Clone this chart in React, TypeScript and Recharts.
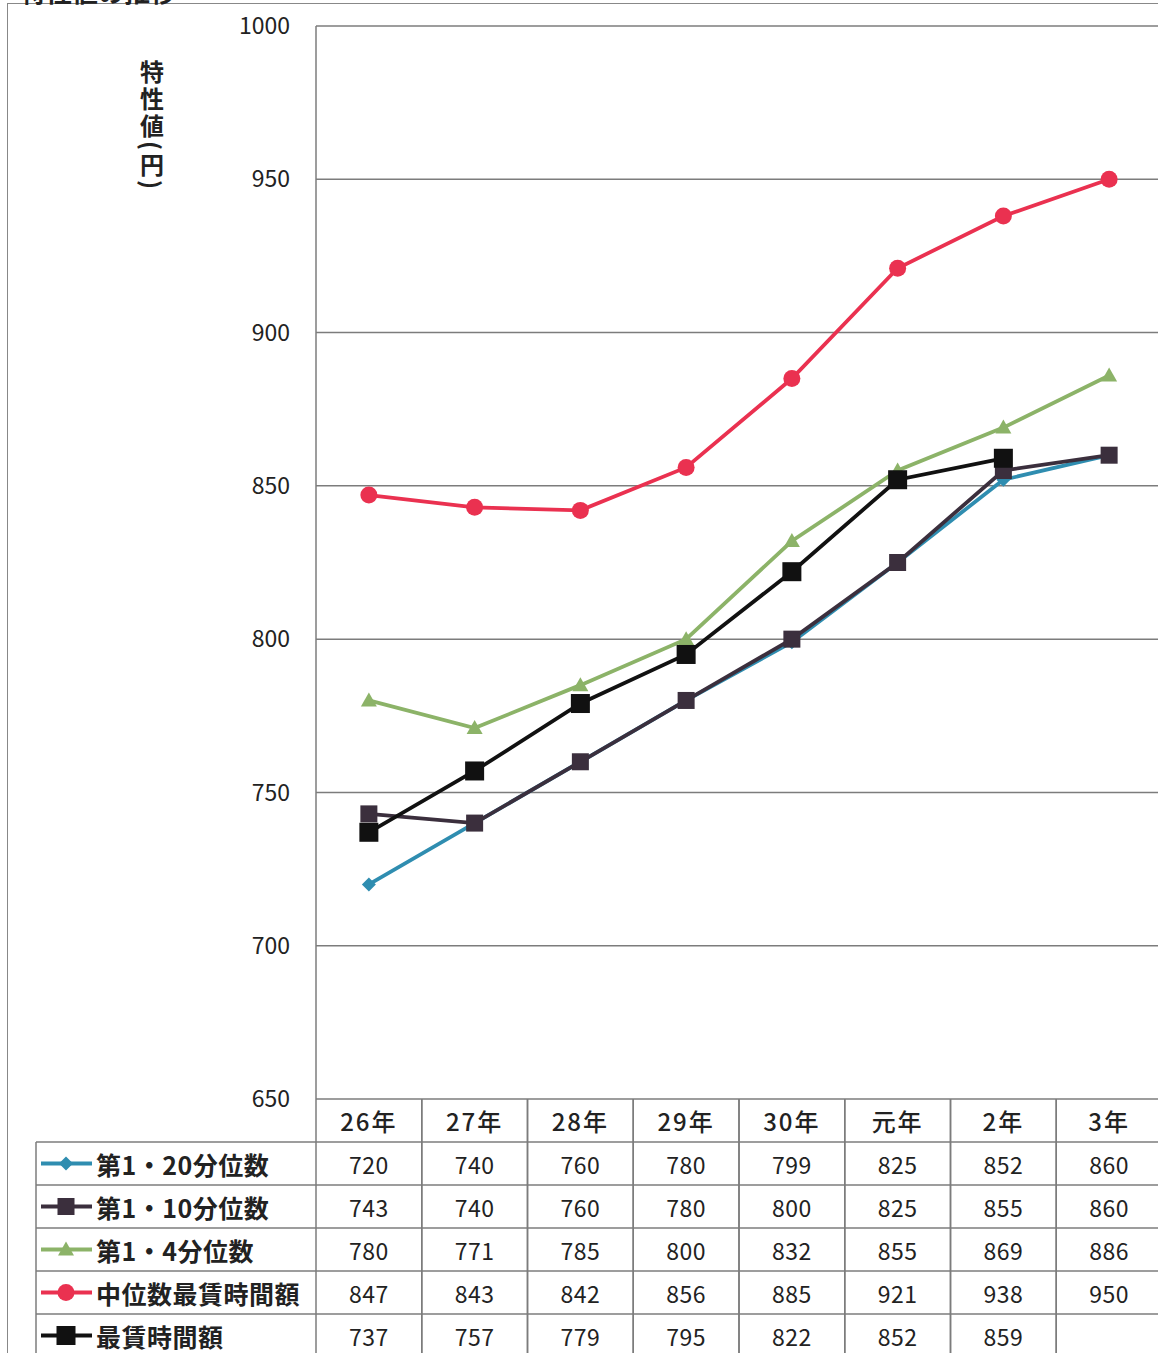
import React from 'react'
import { LineChart, Line, XAxis, YAxis, CartesianGrid } from 'recharts'

const years = ['26年', '27年', '28年', '29年', '30年', '元年', '2年', '3年']
const q20 = [720, 740, 760, 780, 799, 825, 852, 860]
const q10 = [743, 740, 760, 780, 800, 825, 855, 860]
const q4 = [780, 771, 785, 800, 832, 855, 869, 886]
const median = [847, 843, 842, 856, 885, 921, 938, 950]
const minWage = [737, 757, 779, 795, 822, 852, 859, null]
const yTicks = [650, 700, 750, 800, 850, 900, 950, 1000]

const FONT = '"Noto Sans CJK JP", "Noto Sans", sans-serif'
const CHART_W = 1170
const PLOT_LEFT = 316
const PLOT_RIGHT_MARGIN = 8
const COL_W = (CHART_W - PLOT_LEFT - PLOT_RIGHT_MARGIN) / years.length
const ROW_H = 43
const LEGEND_LEFT = 36
const GRID = '#7c7c7c'

type Shape = 'diamond' | 'square' | 'triangle' | 'circle' | 'bigsquare'

interface SeriesDef {
  key: string
  name: string
  values: (number | null)[]
  color: string
  shape: Shape
}

const series: SeriesDef[] = [
  { key: 'q20', name: '第1・20分位数', values: q20, color: '#2f8db0', shape: 'diamond' },
  { key: 'q10', name: '第1・10分位数', values: q10, color: '#3b2f3d', shape: 'square' },
  { key: 'q4', name: '第1・4分位数', values: q4, color: '#8cb368', shape: 'triangle' },
  { key: 'median', name: '中位数最賃時間額', values: median, color: '#ea3150', shape: 'circle' },
  { key: 'min', name: '最賃時間額', values: minWage, color: '#111111', shape: 'bigsquare' },
]

const data = years.map((y, i) => {
  const row: Record<string, string | number | null> = { year: y }
  series.forEach((s) => {
    row[s.key] = s.values[i]
  })
  return row
})

const Marker = ({ cx, cy, shape, color }: { cx: number; cy: number; shape: Shape; color: string }) => {
  if (shape === 'diamond') {
    const r = 7
    return <path d={`M${cx},${cy - r}L${cx + r},${cy}L${cx},${cy + r}L${cx - r},${cy}Z`} fill={color} />
  }
  if (shape === 'square') return <rect x={cx - 8.5} y={cy - 8.5} width={17} height={17} fill={color} />
  if (shape === 'bigsquare') return <rect x={cx - 9.5} y={cy - 9.5} width={19} height={19} fill={color} />
  if (shape === 'triangle') {
    return <path d={`M${cx},${cy - 8}L${cx + 8},${cy + 6}L${cx - 8},${cy + 6}Z`} fill={color} />
  }
  return <circle cx={cx} cy={cy} r={8.5} fill={color} />
}

const makeDot = (s: SeriesDef) => (p: any) => {
  if (p.cy == null || p.value == null) return <g key={p.index} />
  return (
    <g key={p.index}>
      <Marker cx={p.cx} cy={p.cy} shape={s.shape} color={s.color} />
    </g>
  )
}

const TableTick = (props: any) => {
  const { x, y, payload } = props
  const i = payload.index ?? props.index
  const left = x - COL_W / 2
  const right = x + COL_W / 2
  const bottom = y + ROW_H * (series.length + 1) + 10
  return (
    <g fontFamily={FONT}>
      <line x1={left} y1={y} x2={left} y2={bottom} stroke={GRID} strokeWidth={1.5} />
      <line x1={right} y1={y} x2={right} y2={bottom} stroke={GRID} strokeWidth={1.5} />
      {series.map((_, r) => (
        <line key={r} x1={left} y1={y + ROW_H * (r + 1)} x2={right} y2={y + ROW_H * (r + 1)} stroke={GRID} strokeWidth={1.5} />
      ))}
      <text x={x} y={y + ROW_H / 2} textAnchor="middle" dominantBaseline="central" fontSize={24} letterSpacing={2} fontWeight={500} fill="#222">
        {payload.value}
      </text>
      {series.map((s, r) => (
        <text key={s.key} x={x} y={y + ROW_H * (r + 1.5)} textAnchor="middle" dominantBaseline="central" fontSize={23} letterSpacing={0.5} fill="#222">
          {s.values[i] ?? ''}
        </text>
      ))}
      {i === 0 && (
        <g>
          <line x1={LEGEND_LEFT} y1={y + ROW_H} x2={LEGEND_LEFT} y2={bottom} stroke={GRID} strokeWidth={1.5} />
          {series.map((s, r) => {
            const cy = y + ROW_H * (r + 1.5)
            return (
              <g key={s.key}>
                <line x1={LEGEND_LEFT} y1={y + ROW_H * (r + 1)} x2={left} y2={y + ROW_H * (r + 1)} stroke={GRID} strokeWidth={1.5} />
                <line x1={LEGEND_LEFT + 5} y1={cy} x2={LEGEND_LEFT + 56} y2={cy} stroke={s.color} strokeWidth={3.8} />
                <Marker cx={LEGEND_LEFT + 30} cy={cy} shape={s.shape} color={s.color} />
                <text x={LEGEND_LEFT + 60} y={cy} dominantBaseline="central" fontSize={25} fontWeight={700} letterSpacing={0.5} fill="#222">
                  {s.name}
                </text>
              </g>
            )
          })}
        </g>
      )}
    </g>
  )
}

const YLabel = () => (
  <text
    x={152}
    y={60}
    fontFamily={FONT}
    fontSize={24}
    fontWeight={700}
    letterSpacing={3}
    fill="#222"
    style={{ writingMode: 'vertical-rl' }}
    textAnchor="start"
  >
    特性値(円)
  </text>
)

const App: React.FC = () => {
  return (
    <div style={{ position: 'absolute', left: 0, top: 0, width: 1158, height: 1353, overflow: 'hidden', background: '#fff' }}>
      <div style={{ position: 'absolute', left: 7, top: 3, width: 1200, height: 1400, border: '1.5px solid #888' }} />
      <div style={{ position: 'absolute', left: 20, top: -24, fontFamily: FONT, fontSize: 26, fontWeight: 700, color: '#222', lineHeight: '30px' }}>
        特性値の推移
      </div>
      <div style={{ position: 'absolute', left: 0, top: 0 }}>
        <LineChart width={CHART_W} height={1360} data={data} margin={{ top: 26, right: PLOT_RIGHT_MARGIN, bottom: 0, left: 0 }}>
          <CartesianGrid vertical={false} stroke={GRID} strokeWidth={1.5} />
          <XAxis
            dataKey="year"
            height={261}
            interval={0}
            padding={{ left: COL_W / 2, right: COL_W / 2 }}
            axisLine={false}
            tickLine={false}
            tickSize={0}
            tickMargin={0}
            tick={<TableTick />}
          />
          <YAxis
            width={PLOT_LEFT}
            domain={[650, 1000]}
            ticks={yTicks}
            interval={0}
            axisLine={{ stroke: GRID, strokeWidth: 1.5 }}
            tickLine={false}
            tickSize={0}
            tickMargin={26}
            tick={{ fontFamily: FONT, fontSize: 23, fill: '#222' }}
            label={{ content: () => <YLabel /> }}
          />
          {series.map((s) => (
            <Line
              key={s.key}
              dataKey={s.key}
              name={s.name}
              stroke={s.color}
              strokeWidth={3.8}
              dot={makeDot(s)}
              activeDot={false}
              isAnimationActive={false}
              type="linear"
            />
          ))}
        </LineChart>
      </div>
    </div>
  )
}

export default App
